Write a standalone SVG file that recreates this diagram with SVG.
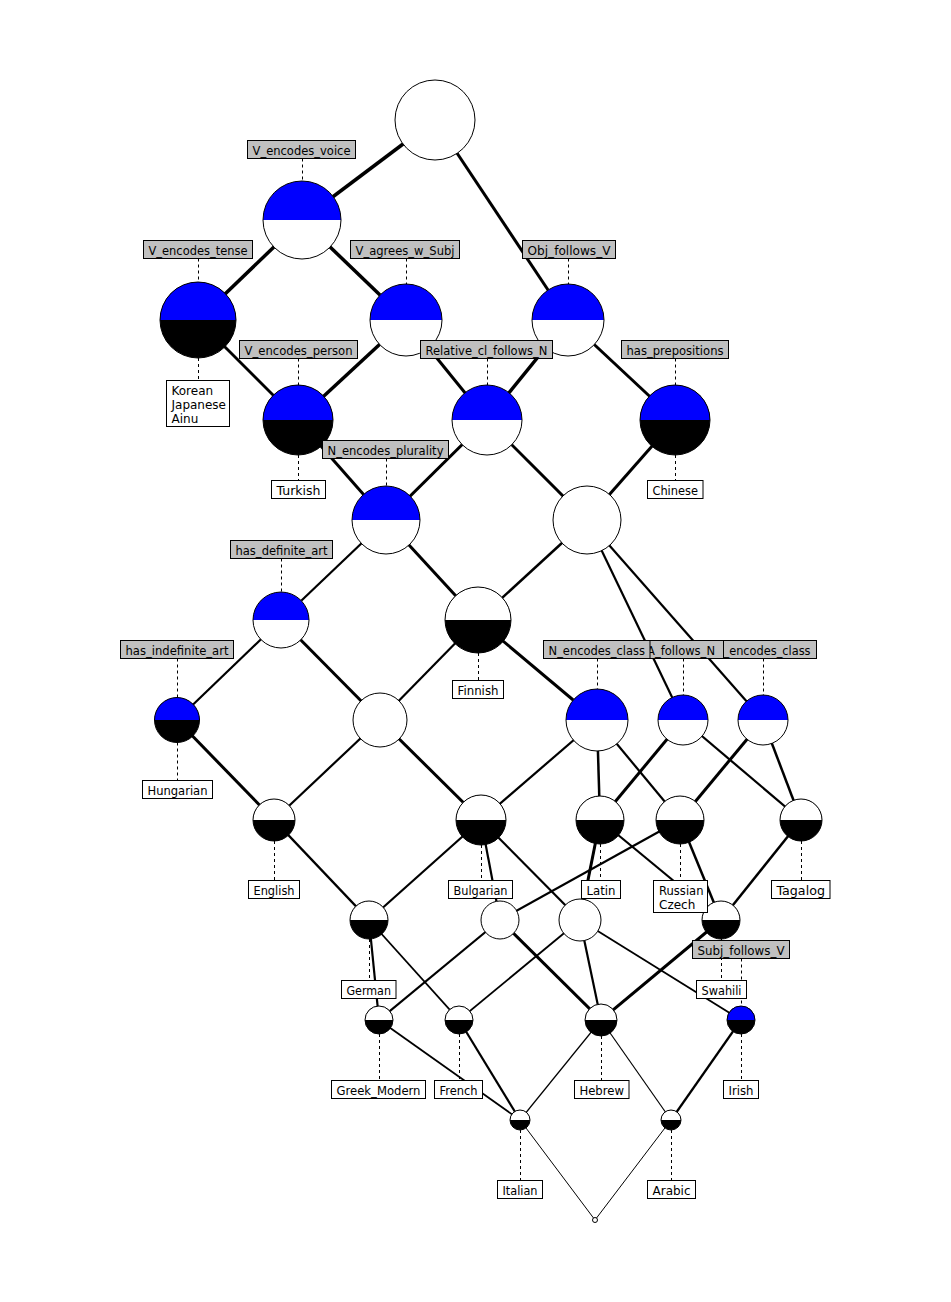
<svg xmlns="http://www.w3.org/2000/svg" width="951" height="1302" viewBox="0 0 951 1302">
  <style>
    .e { stroke: #000; stroke-linecap: butt; fill: none; }
    .w35 { stroke-width: 3.5; }
    .w3 { stroke-width: 3; }
    .w25 { stroke-width: 2.5; }
    .w22 { stroke-width: 2.2; }
    .w18 { stroke-width: 1.8; }
    .w12 { stroke-width: 1.2; }
    .w1 { stroke-width: 1; }
    .lead { stroke: #000; stroke-width: 1; stroke-dasharray: 3 3; fill: none; }
    .blue { fill: #0000ff; }
    .blk { fill: #000; }
    .wht { fill: #fff; }
    .ring { fill: none; stroke: #000; stroke-width: 1; }
    .attr { fill: #c0c0c0; stroke: #000; stroke-width: 1; }
    .obj { fill: #fff; stroke: #000; stroke-width: 1; }
    text { font-family: "DejaVu Sans", "Liberation Sans", sans-serif; font-size: 12px; fill: #000; }
    .c { text-anchor: middle; }
  </style>
  <rect x="0" y="0" width="951" height="1302" fill="#fff"/>

  <!-- lattice edges -->
  <g id="edges">
    <line class="e w35" x1="435" y1="120" x2="302" y2="220"/>
    <line class="e w3" x1="435" y1="120" x2="568" y2="320"/>
    <line class="e w35" x1="302" y1="220" x2="198" y2="320"/>
    <line class="e w35" x1="302" y1="220" x2="406" y2="320"/>
    <line class="e w3" x1="198" y1="320" x2="298" y2="420"/>
    <line class="e w35" x1="406" y1="320" x2="298" y2="420"/>
    <line class="e w3" x1="406" y1="320" x2="487" y2="420"/>
    <line class="e w35" x1="568" y1="320" x2="487" y2="420"/>
    <line class="e w3" x1="568" y1="320" x2="675" y2="420"/>
    <line class="e w3" x1="298" y1="420" x2="386" y2="520"/>
    <line class="e w3" x1="487" y1="420" x2="386" y2="520"/>
    <line class="e w3" x1="487" y1="420" x2="587" y2="520"/>
    <line class="e w3" x1="675" y1="420" x2="587" y2="520"/>
    <line class="e w22" x1="386" y1="520" x2="281" y2="620"/>
    <line class="e w3" x1="386" y1="520" x2="478" y2="620"/>
    <line class="e w25" x1="587" y1="520" x2="478" y2="620"/>
    <line class="e w22" x1="587" y1="520" x2="683" y2="720"/>
    <line class="e w22" x1="587" y1="520" x2="763" y2="720"/>
    <line class="e w22" x1="281" y1="620" x2="177" y2="720"/>
    <line class="e w3" x1="281" y1="620" x2="380" y2="720"/>
    <line class="e w22" x1="478" y1="620" x2="380" y2="720"/>
    <line class="e w3" x1="478" y1="620" x2="597" y2="720"/>
    <line class="e w3" x1="177" y1="720" x2="274" y2="820"/>
    <line class="e w22" x1="380" y1="720" x2="274" y2="820"/>
    <line class="e w3" x1="380" y1="720" x2="481" y2="820"/>
    <line class="e w22" x1="597" y1="720" x2="481" y2="820"/>
    <line class="e w25" x1="597" y1="720" x2="600" y2="820"/>
    <line class="e w22" x1="597" y1="720" x2="680" y2="820"/>
    <line class="e w3" x1="683" y1="720" x2="600" y2="820"/>
    <line class="e w22" x1="683" y1="720" x2="801" y2="820"/>
    <line class="e w3" x1="763" y1="720" x2="680" y2="820"/>
    <line class="e w25" x1="763" y1="720" x2="801" y2="820"/>
    <line class="e w25" x1="274" y1="820" x2="369" y2="920"/>
    <line class="e w22" x1="481" y1="820" x2="369" y2="920"/>
    <line class="e w22" x1="481" y1="820" x2="500" y2="920"/>
    <line class="e w22" x1="481" y1="820" x2="580" y2="920"/>
    <line class="e w3" x1="600" y1="820" x2="580" y2="920"/>
    <line class="e w22" x1="600" y1="820" x2="721" y2="920"/>
    <line class="e w22" x1="680" y1="820" x2="500" y2="920"/>
    <line class="e w25" x1="680" y1="820" x2="721" y2="920"/>
    <line class="e w25" x1="801" y1="820" x2="721" y2="920"/>
    <line class="e w22" x1="369" y1="920" x2="379" y2="1020"/>
    <line class="e w18" x1="369" y1="920" x2="459" y2="1020"/>
    <line class="e w22" x1="500" y1="920" x2="379" y2="1020"/>
    <line class="e w3" x1="500" y1="920" x2="601" y2="1020"/>
    <line class="e w18" x1="580" y1="920" x2="459" y2="1020"/>
    <line class="e w22" x1="580" y1="920" x2="601" y2="1020"/>
    <line class="e w18" x1="580" y1="920" x2="741" y2="1020"/>
    <line class="e w3" x1="721" y1="920" x2="601" y2="1020"/>
    <line class="e w18" x1="379" y1="1020" x2="520" y2="1120"/>
    <line class="e w22" x1="459" y1="1020" x2="520" y2="1120"/>
    <line class="e w12" x1="601" y1="1020" x2="520" y2="1120"/>
    <line class="e w12" x1="601" y1="1020" x2="671" y2="1120"/>
    <line class="e w22" x1="741" y1="1020" x2="671" y2="1120"/>
    <line class="e w1" x1="520" y1="1120" x2="595" y2="1220"/>
    <line class="e w1" x1="671" y1="1120" x2="595" y2="1220"/>
  </g>

  <!-- dashed leaders from labels to their concepts -->
  <g id="leaders">
    <line class="lead" x1="302.5" y1="158.5" x2="302.5" y2="181"/>
    <line class="lead" x1="198.5" y1="258.5" x2="198.5" y2="282"/>
    <line class="lead" x1="406.5" y1="258.5" x2="406.5" y2="284"/>
    <line class="lead" x1="568.5" y1="258.5" x2="568.5" y2="284"/>
    <line class="lead" x1="298.5" y1="358.5" x2="298.5" y2="385"/>
    <line class="lead" x1="487.5" y1="358.5" x2="487.5" y2="385"/>
    <line class="lead" x1="675.5" y1="358.5" x2="675.5" y2="385"/>
    <line class="lead" x1="386.5" y1="458.5" x2="386.5" y2="486"/>
    <line class="lead" x1="281.5" y1="558.5" x2="281.5" y2="592"/>
    <line class="lead" x1="177.5" y1="658.5" x2="177.5" y2="697.5"/>
    <line class="lead" x1="597.5" y1="658.5" x2="597.5" y2="689"/>
    <line class="lead" x1="683.5" y1="658.5" x2="683.5" y2="695"/>
    <line class="lead" x1="763.5" y1="658.5" x2="763.5" y2="695"/>
    <line class="lead" x1="741.5" y1="958.5" x2="741.5" y2="1006"/>
    <line class="lead" x1="198.5" y1="358" x2="198.5" y2="380.5"/>
    <line class="lead" x1="298.5" y1="455" x2="298.5" y2="480.5"/>
    <line class="lead" x1="675.5" y1="455" x2="675.5" y2="480.5"/>
    <line class="lead" x1="478.5" y1="653" x2="478.5" y2="680.5"/>
    <line class="lead" x1="177.5" y1="742.5" x2="177.5" y2="780.5"/>
    <line class="lead" x1="274.5" y1="841" x2="274.5" y2="880.5"/>
    <line class="lead" x1="481.5" y1="845" x2="481.5" y2="880.5"/>
    <line class="lead" x1="600.5" y1="844" x2="600.5" y2="880.5"/>
    <line class="lead" x1="680.5" y1="844" x2="680.5" y2="880.5"/>
    <line class="lead" x1="801.5" y1="841" x2="801.5" y2="880.5"/>
    <line class="lead" x1="369.5" y1="939" x2="369.5" y2="980.5"/>
    <line class="lead" x1="721.5" y1="939" x2="721.5" y2="980.5"/>
    <line class="lead" x1="379.5" y1="1034" x2="379.5" y2="1080.5"/>
    <line class="lead" x1="459.5" y1="1034" x2="459.5" y2="1080.5"/>
    <line class="lead" x1="601.5" y1="1036" x2="601.5" y2="1080.5"/>
    <line class="lead" x1="741.5" y1="1034" x2="741.5" y2="1080.5"/>
    <line class="lead" x1="520.5" y1="1130" x2="520.5" y2="1180.5"/>
    <line class="lead" x1="671.5" y1="1130" x2="671.5" y2="1180.5"/>
  </g>

  <!-- concepts: upper half = own attribute (blue), lower half = own object (black) -->
  <g id="n-top"><circle class="wht" cx="435" cy="120" r="40"/><circle class="ring" cx="435" cy="120" r="40"/></g>
  <g id="n-voice"><circle class="wht" cx="302" cy="220" r="39"/><path class="blue" d="M263 220 A39 39 0 0 1 341 220 Z"/><circle class="ring" cx="302" cy="220" r="39"/></g>
  <g id="n-tense"><circle class="blk" cx="198" cy="320" r="38"/><path class="blue" d="M160 320 A38 38 0 0 1 236 320 Z"/><circle class="ring" cx="198" cy="320" r="38"/></g>
  <g id="n-agrees"><circle class="wht" cx="406" cy="320" r="36"/><path class="blue" d="M370 320 A36 36 0 0 1 442 320 Z"/><circle class="ring" cx="406" cy="320" r="36"/></g>
  <g id="n-obj"><circle class="wht" cx="568" cy="320" r="36"/><path class="blue" d="M532 320 A36 36 0 0 1 604 320 Z"/><circle class="ring" cx="568" cy="320" r="36"/></g>
  <g id="n-person"><circle class="blk" cx="298" cy="420" r="35"/><path class="blue" d="M263 420 A35 35 0 0 1 333 420 Z"/><circle class="ring" cx="298" cy="420" r="35"/></g>
  <g id="n-relcl"><circle class="wht" cx="487" cy="420" r="35"/><path class="blue" d="M452 420 A35 35 0 0 1 522 420 Z"/><circle class="ring" cx="487" cy="420" r="35"/></g>
  <g id="n-prep"><circle class="blk" cx="675" cy="420" r="35"/><path class="blue" d="M640 420 A35 35 0 0 1 710 420 Z"/><circle class="ring" cx="675" cy="420" r="35"/></g>
  <g id="n-plural"><circle class="wht" cx="386" cy="520" r="34"/><path class="blue" d="M352 520 A34 34 0 0 1 420 520 Z"/><circle class="ring" cx="386" cy="520" r="34"/></g>
  <g id="n-c588"><circle class="wht" cx="587" cy="520" r="34"/><circle class="ring" cx="587" cy="520" r="34"/></g>
  <g id="n-defart"><circle class="wht" cx="281" cy="620" r="28"/><path class="blue" d="M253 620 A28 28 0 0 1 309 620 Z"/><circle class="ring" cx="281" cy="620" r="28"/></g>
  <g id="n-finnish"><circle class="blk" cx="478" cy="620" r="33"/><path class="wht" d="M445 620 A33 33 0 0 1 511 620 Z"/><circle class="ring" cx="478" cy="620" r="33"/></g>
  <g id="n-indef"><circle class="blk" cx="177" cy="720" r="22.5"/><path class="blue" d="M154.5 720 A22.5 22.5 0 0 1 199.5 720 Z"/><circle class="ring" cx="177" cy="720" r="22.5"/></g>
  <g id="n-c380"><circle class="wht" cx="380" cy="720" r="27"/><circle class="ring" cx="380" cy="720" r="27"/></g>
  <g id="n-nclass"><circle class="wht" cx="597" cy="720" r="31"/><path class="blue" d="M566 720 A31 31 0 0 1 628 720 Z"/><circle class="ring" cx="597" cy="720" r="31"/></g>
  <g id="n-afollows"><circle class="wht" cx="683" cy="720" r="25"/><path class="blue" d="M658 720 A25 25 0 0 1 708 720 Z"/><circle class="ring" cx="683" cy="720" r="25"/></g>
  <g id="n-class2"><circle class="wht" cx="763" cy="720" r="25"/><path class="blue" d="M738 720 A25 25 0 0 1 788 720 Z"/><circle class="ring" cx="763" cy="720" r="25"/></g>
  <g id="n-english"><circle class="blk" cx="274" cy="820" r="21"/><path class="wht" d="M253 820 A21 21 0 0 1 295 820 Z"/><circle class="ring" cx="274" cy="820" r="21"/></g>
  <g id="n-bulgarian"><circle class="blk" cx="481" cy="820" r="25"/><path class="wht" d="M456 820 A25 25 0 0 1 506 820 Z"/><circle class="ring" cx="481" cy="820" r="25"/></g>
  <g id="n-latin"><circle class="blk" cx="600" cy="820" r="24"/><path class="wht" d="M576 820 A24 24 0 0 1 624 820 Z"/><circle class="ring" cx="600" cy="820" r="24"/></g>
  <g id="n-russian"><circle class="blk" cx="680" cy="820" r="24"/><path class="wht" d="M656 820 A24 24 0 0 1 704 820 Z"/><circle class="ring" cx="680" cy="820" r="24"/></g>
  <g id="n-tagalog"><circle class="blk" cx="801" cy="820" r="21"/><path class="wht" d="M780 820 A21 21 0 0 1 822 820 Z"/><circle class="ring" cx="801" cy="820" r="21"/></g>
  <g id="n-german"><circle class="blk" cx="369" cy="920" r="19"/><path class="wht" d="M350 920 A19 19 0 0 1 388 920 Z"/><circle class="ring" cx="369" cy="920" r="19"/></g>
  <g id="n-c500"><circle class="wht" cx="500" cy="920" r="19"/><circle class="ring" cx="500" cy="920" r="19"/></g>
  <g id="n-c580"><circle class="wht" cx="580" cy="920" r="21"/><circle class="ring" cx="580" cy="920" r="21"/></g>
  <g id="n-swahili"><circle class="blk" cx="721" cy="920" r="19"/><path class="wht" d="M702 920 A19 19 0 0 1 740 920 Z"/><circle class="ring" cx="721" cy="920" r="19"/></g>
  <g id="n-greek"><circle class="blk" cx="379" cy="1020" r="14"/><path class="wht" d="M365 1020 A14 14 0 0 1 393 1020 Z"/><circle class="ring" cx="379" cy="1020" r="14"/></g>
  <g id="n-french"><circle class="blk" cx="459" cy="1020" r="14"/><path class="wht" d="M445 1020 A14 14 0 0 1 473 1020 Z"/><circle class="ring" cx="459" cy="1020" r="14"/></g>
  <g id="n-hebrew"><circle class="blk" cx="601" cy="1020" r="16"/><path class="wht" d="M585 1020 A16 16 0 0 1 617 1020 Z"/><circle class="ring" cx="601" cy="1020" r="16"/></g>
  <g id="n-irish"><circle class="blk" cx="741" cy="1020" r="14"/><path class="blue" d="M727 1020 A14 14 0 0 1 755 1020 Z"/><circle class="ring" cx="741" cy="1020" r="14"/></g>
  <g id="n-italian"><circle class="blk" cx="520" cy="1120" r="10"/><path class="wht" d="M510 1120 A10 10 0 0 1 530 1120 Z"/><circle class="ring" cx="520" cy="1120" r="10"/></g>
  <g id="n-arabic"><circle class="blk" cx="671" cy="1120" r="10"/><path class="wht" d="M661 1120 A10 10 0 0 1 681 1120 Z"/><circle class="ring" cx="671" cy="1120" r="10"/></g>
  <g id="n-bottom"><circle class="wht" cx="595" cy="1220" r="2.5"/><circle class="ring" cx="595" cy="1220" r="2.5"/></g>

  <!-- attribute labels -->
  <g id="attr-labels">
    <rect class="attr" x="247.5" y="140.5" width="108" height="18"/><text class="c" x="301.5" y="154.5" textLength="98" lengthAdjust="spacingAndGlyphs">V_encodes_voice</text>
    <rect class="attr" x="143.5" y="240.5" width="109" height="18"/><text class="c" x="198" y="254.5" textLength="99" lengthAdjust="spacingAndGlyphs">V_encodes_tense</text>
    <rect class="attr" x="350.5" y="240.5" width="109" height="18"/><text class="c" x="405" y="254.5" textLength="99" lengthAdjust="spacingAndGlyphs">V_agrees_w_Subj</text>
    <rect class="attr" x="522.5" y="240.5" width="93" height="18"/><text class="c" x="569" y="254.5" textLength="83" lengthAdjust="spacingAndGlyphs">Obj_follows_V</text>
    <rect class="attr" x="239.5" y="340.5" width="118" height="18"/><text class="c" x="298.5" y="354.5" textLength="108" lengthAdjust="spacingAndGlyphs">V_encodes_person</text>
    <rect class="attr" x="420.5" y="340.5" width="132" height="18"/><text class="c" x="486.5" y="354.5" textLength="122" lengthAdjust="spacingAndGlyphs">Relative_cl_follows_N</text>
    <rect class="attr" x="621.5" y="340.5" width="107" height="18"/><text class="c" x="675" y="354.5" textLength="97" lengthAdjust="spacingAndGlyphs">has_prepositions</text>
    <rect class="attr" x="322.5" y="440.5" width="126" height="18"/><text class="c" x="385.5" y="454.5" textLength="116" lengthAdjust="spacingAndGlyphs">N_encodes_plurality</text>
    <rect class="attr" x="230.5" y="540.5" width="102" height="18"/><text class="c" x="281.5" y="554.5" textLength="92" lengthAdjust="spacingAndGlyphs">has_definite_art</text>
    <rect class="attr" x="120.5" y="640.5" width="113" height="18"/><text class="c" x="177" y="654.5" textLength="103" lengthAdjust="spacingAndGlyphs">has_indefinite_art</text>
    <rect class="attr" x="709.5" y="640.5" width="107" height="18"/><text x="723.5" y="654.5" textLength="87" lengthAdjust="spacingAndGlyphs">_encodes_class</text>
    <rect class="attr" x="643.5" y="640.5" width="80" height="18"/><text class="c" x="681" y="654.5" textLength="68" lengthAdjust="spacingAndGlyphs">A_follows_N</text>
    <rect class="attr" x="543.5" y="640.5" width="106.5" height="18"/><text class="c" x="596.8" y="654.5" textLength="96.5" lengthAdjust="spacingAndGlyphs">N_encodes_class</text>
    <rect class="attr" x="692.5" y="940.5" width="97" height="18"/><text class="c" x="741" y="954.5" textLength="87" lengthAdjust="spacingAndGlyphs">Subj_follows_V</text>
  </g>

  <!-- object labels -->
  <g id="obj-labels">
    <rect class="obj" x="166.5" y="380.5" width="63" height="46"/>
    <text x="171.5" y="394.5">Korean</text><text x="171.5" y="408.5">Japanese</text><text x="171.5" y="422.5">Ainu</text>
    <rect class="obj" x="271.5" y="480.5" width="54" height="18"/><text class="c" x="298.5" y="494.5" textLength="44" lengthAdjust="spacingAndGlyphs">Turkish</text>
    <rect class="obj" x="647.5" y="480.5" width="55.5" height="18"/><text class="c" x="675.2" y="494.5" textLength="45.5" lengthAdjust="spacingAndGlyphs">Chinese</text>
    <rect class="obj" x="452.5" y="680.5" width="51" height="18"/><text class="c" x="478" y="694.5" textLength="41" lengthAdjust="spacingAndGlyphs">Finnish</text>
    <rect class="obj" x="142.5" y="780.5" width="70" height="18"/><text class="c" x="177.5" y="794.5" textLength="60" lengthAdjust="spacingAndGlyphs">Hungarian</text>
    <rect class="obj" x="248.5" y="880.5" width="51" height="18"/><text class="c" x="274" y="894.5" textLength="41" lengthAdjust="spacingAndGlyphs">English</text>
    <rect class="obj" x="448.5" y="880.5" width="64" height="18"/><text class="c" x="480.5" y="894.5" textLength="54" lengthAdjust="spacingAndGlyphs">Bulgarian</text>
    <rect class="obj" x="581.5" y="880.5" width="39" height="18"/><text class="c" x="601" y="894.5" textLength="29" lengthAdjust="spacingAndGlyphs">Latin</text>
    <rect class="obj" x="653.5" y="880.5" width="54" height="32"/>
    <text x="659" y="894.5" textLength="44.5" lengthAdjust="spacingAndGlyphs">Russian</text><text x="659" y="908.5">Czech</text>
    <rect class="obj" x="771.5" y="880.5" width="58.5" height="18"/><text class="c" x="800.7" y="894.5" textLength="48.5" lengthAdjust="spacingAndGlyphs">Tagalog</text>
    <rect class="obj" x="341.5" y="980.5" width="54.5" height="18"/><text class="c" x="368.7" y="994.5" textLength="44.5" lengthAdjust="spacingAndGlyphs">German</text>
    <rect class="obj" x="696.5" y="980.5" width="50" height="18"/><text class="c" x="721.5" y="994.5" textLength="40" lengthAdjust="spacingAndGlyphs">Swahili</text>
    <rect class="obj" x="331.5" y="1080.5" width="94" height="18"/><text class="c" x="378.5" y="1094.5" textLength="84" lengthAdjust="spacingAndGlyphs">Greek_Modern</text>
    <rect class="obj" x="434.5" y="1080.5" width="48" height="18"/><text class="c" x="458.5" y="1094.5" textLength="38" lengthAdjust="spacingAndGlyphs">French</text>
    <rect class="obj" x="574.5" y="1080.5" width="54.5" height="18"/><text class="c" x="601.7" y="1094.5" textLength="44.5" lengthAdjust="spacingAndGlyphs">Hebrew</text>
    <rect class="obj" x="723.5" y="1080.5" width="35" height="18"/><text class="c" x="741" y="1094.5" textLength="25" lengthAdjust="spacingAndGlyphs">Irish</text>
    <rect class="obj" x="497.5" y="1180.5" width="45" height="18"/><text class="c" x="520" y="1194.5" textLength="35" lengthAdjust="spacingAndGlyphs">Italian</text>
    <rect class="obj" x="647.5" y="1180.5" width="48" height="18"/><text class="c" x="671.5" y="1194.5" textLength="38" lengthAdjust="spacingAndGlyphs">Arabic</text>
  </g>
</svg>
